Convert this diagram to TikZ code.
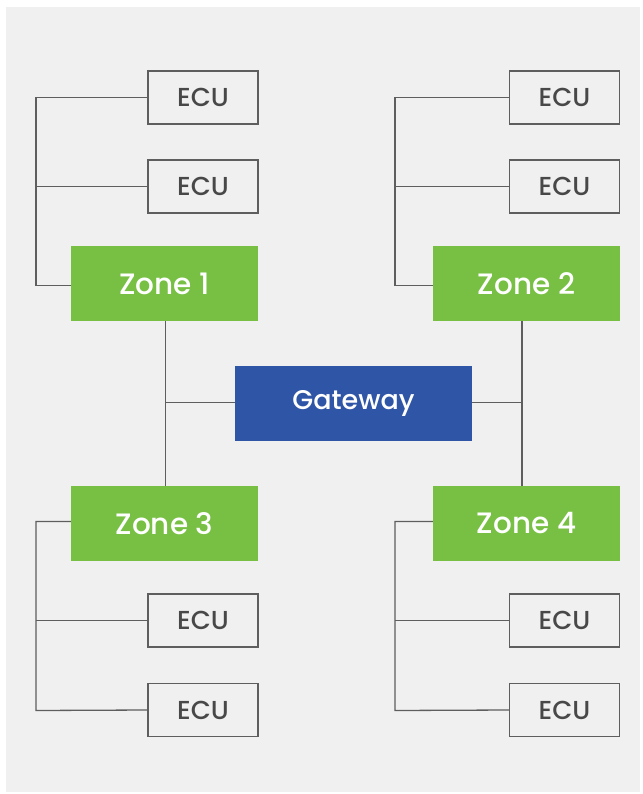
\documentclass[tikz,border=0pt]{standalone}
\usepackage{fontspec}
\setmainfont{Poppins Medium}
\definecolor{bgc}{HTML}{F0F0F0}
\definecolor{zonec}{HTML}{77C043}
\definecolor{gwc}{HTML}{2F56A6}
\definecolor{linec}{HTML}{5E5E5E}
\definecolor{ecutext}{HTML}{484848}
\begin{document}
\begin{tikzpicture}[x=1pt,y=-1pt,
  ecubox/.style={draw=linec,line width=1.3pt,fill=bgc,minimum width=110pt,minimum height=53pt,inner sep=0pt,text=ecutext,font=\fontsize{26}{28}\selectfont},
  zonebox/.style={fill=zonec,minimum width=187pt,minimum height=75pt,inner sep=0pt,text=white,font=\fontsize{29.5}{31}\selectfont},
  gwbox/.style={fill=gwc,minimum width=237pt,minimum height=75pt,inner sep=0pt,text=white,font=\fontsize{27}{29}\selectfont},
  wire/.style={draw=linec,line width=1.3pt}]
\useasboundingbox (0,0) rectangle (642,794);
\fill[bgc] (6,7) rectangle (640,792);
% nodes
\node[zonebox] (z1) at (164.5,283.5) {Zone 1};
\node[zonebox] (z2) at (526.5,283.5) {Zone 2};
\node[zonebox] (z3) at (164.5,523.5) {Zone 3};
\node[zonebox] (z4) at (526.5,523.5) {Zone 4};
\node[gwbox] (gw) at (353.5,403.5) {Gateway};
\node[ecubox] (e1) at (203,97.5) {ECU};
\node[ecubox] (e2) at (203,186.5) {ECU};
\node[ecubox] (e3) at (564.5,97.5) {ECU};
\node[ecubox] (e4) at (564.5,186.5) {ECU};
\node[ecubox] (e5) at (203,620.5) {ECU};
\node[ecubox] (e6) at (203,710) {ECU};
\node[ecubox] (e7) at (564.5,620.5) {ECU};
\node[ecubox] (e8) at (564.5,710) {ECU};
% zone to gateway
\coordinate (jl) at (165.5,402.5);
\coordinate (jr) at (522,402.5);
\draw[wire] (z1.south -| jl) -- (z3.north -| jl);
\draw[wire] (jl) -- (gw.west |- jl);
\draw[wire] (z2.south -| jr) -- (z4.north -| jr);
\draw[wire] (jr) -- (gw.east |- jr);
% left-top bus
\draw[wire] (e1.west) -- (36,97.5) -- (36,285.5) -- (z1.west |- 0,285.5);
\draw[wire] (e2.west) -- (36,186.5);
% right-top bus
\draw[wire] (e3.west) -- (395,97.5) -- (395,285.5) -- (z2.west |- 0,285.5);
\draw[wire] (e4.west) -- (395,186.5);
% left-bottom bus
\draw[wire] (z3.west |- 0,521.5) -- (36,521.5) -- (36,710.5) -- (e6.west);
\draw[wire] (e5.west) -- (36,620.5);
% right-bottom bus
\draw[wire] (z4.west |- 0,521.5) -- (395,521.5) -- (395,710.5) -- (e8.west);
\draw[wire] (e7.west) -- (395,620.5);
\end{tikzpicture}
\end{document}
